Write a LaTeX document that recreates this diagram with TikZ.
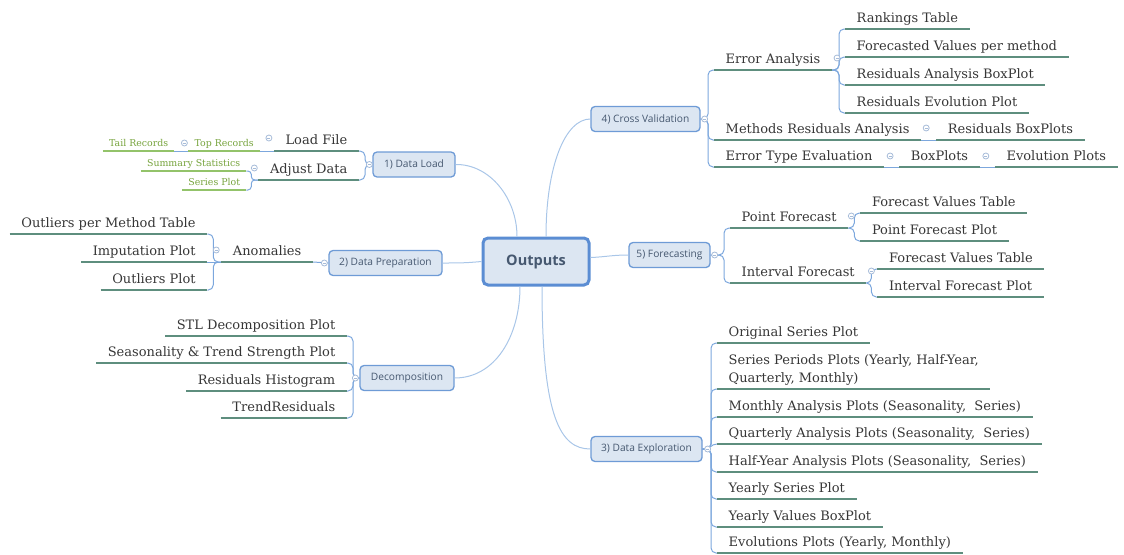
\documentclass[tikz,border=0pt]{standalone}
\usepackage{fontspec}
\setmainfont{DejaVu Serif}
\newfontfamily\boxfont{Open Sans}
\usetikzlibrary{calc}
\definecolor{boxfill}{HTML}{DCE6F2}
\definecolor{boxdraw}{HTML}{6E9BD6}
\definecolor{rootdraw}{HTML}{5B8DD3}
\definecolor{mainline}{HTML}{A9C6E8}
\definecolor{brline}{HTML}{7CA7DD}
\definecolor{ulcol}{HTML}{5E8E7E}
\definecolor{greenul}{HTML}{93C36A}
\definecolor{greentxt}{HTML}{76A33C}
\definecolor{boxtxt}{HTML}{465870}
\definecolor{toptxt}{HTML}{363636}
\definecolor{collcol}{HTML}{A7BCD9}
\begin{document}
\begin{tikzpicture}[x=1pt,y=-1pt,
 box/.style={draw=boxdraw, fill=boxfill, line width=1.3pt, rounded corners=4pt,
   font=\boxfont\fontsize{10.2}{12}\selectfont, text=boxtxt, minimum height=25pt, inner xsep=5pt},
 root/.style={draw=rootdraw, fill=boxfill, line width=3pt, rounded corners=5pt,
   font=\boxfont\bfseries\fontsize{14.5}{16}\selectfont, text=boxtxt, minimum width=106pt, minimum height=47pt},
 topic/.style={font=\fontsize{13}{18}\selectfont, text=toptxt, inner xsep=11.5pt, inner ysep=0pt,
   text height=10pt, text depth=6.5pt},
 rt/.style={topic, anchor=south west},
 lt/.style={topic, anchor=south east},
 sub/.style={font=\fontsize{9.4}{11}\selectfont, text=greentxt, inner xsep=6pt, inner ysep=0pt,
   text height=7pt, text depth=4.5pt, anchor=south east},
 ul/.style={draw=ulcol, line width=2.4pt},
 gul/.style={draw=greenul, line width=1.2pt},
 main/.style={draw=mainline, line width=1pt},
 br/.style={draw=brline, line width=1pt, rounded corners=5pt},
 coll/.style={circle, draw=collcol, fill=white, line width=0.8pt, minimum size=6pt, inner sep=0pt,
   path picture={\draw[collcol, line width=0.6pt] ($(path picture bounding box.center)+(-1.5,0)$) -- ($(path picture bounding box.center)+(1.5,0)$);}}
]
\useasboundingbox (0,0) rectangle (1124,554);

% ---------- boxes ----------
\node[root] (out) at (536,261.5) {Outputs};
\node[box, minimum width=82pt]  (dl)  at (414,164.5) {1) Data Load};
\node[box, minimum width=113pt] (dp)  at (385.5,263) {2) Data Preparation};
\node[box, minimum width=94pt]  (dec) at (407,378) {Decomposition};
\node[box, minimum width=109pt] (cv)  at (645.5,119) {4) Cross Validation};
\node[box, minimum width=81pt]  (fc)  at (669.5,255) {5) Forecasting};
\node[box, minimum width=111pt] (de)  at (646.5,449) {3) Data Exploration};

% ---------- Data Load ----------
\node[lt] (loadfile) at (359,151) {Load File};
\node[lt] (adjust) at (359,180) {Adjust Data};
\node[sub] (toprec) at ([xshift=-14pt]loadfile.south west) {Top Records};
\node[sub] (tailrec) at ([xshift=-14pt]toprec.south west) {Tail Records};
\node[sub] (sumstat) at ([xshift=-12pt,yshift=9pt]adjust.south west) {Summary Statistics};
\node[sub] (sersplot) at ([xshift=-12pt,yshift=-10pt]adjust.south west) {Series Plot};

% ---------- Data Preparation ----------
\node[lt] (anomalies) at (313,262) {Anomalies};
\node[lt] (outpm) at ([xshift=-14pt,yshift=28pt]anomalies.south west) {Outliers per Method Table};
\node[lt] (imput) at ([xshift=-14pt]anomalies.south west) {Imputation Plot};
\node[lt] (outplot) at ([xshift=-14pt,yshift=-28pt]anomalies.south west) {Outliers Plot};

% ---------- Decomposition ----------
\node[lt] (stl) at (347,336) {STL Decomposition Plot};
\node[lt] (seas) at (347,363) {Seasonality \& Trend Strength Plot};
\node[lt] (resh) at (347,391) {Residuals Histogram};
\node[lt] (trendres) at (347,418) {TrendResiduals};

% ---------- Cross Validation ----------
\node[rt] (erran) at (714,70) {Error Analysis};
\node[rt] (rank) at ([xshift=13pt,yshift=41pt]erran.south east) {Rankings Table};
\node[rt] (fvpm) at ([xshift=13pt,yshift=13pt]erran.south east) {Forecasted Values per method};
\node[rt] (rab) at ([xshift=13pt,yshift=-15pt]erran.south east) {Residuals Analysis BoxPlot};
\node[rt] (rep) at ([xshift=13pt,yshift=-43pt]erran.south east) {Residuals Evolution Plot};
\node[rt] (mra) at (714,140) {Methods Residuals Analysis};
\node[rt] (rbp) at ([xshift=15pt]mra.south east) {Residuals BoxPlots};
\node[rt] (ete) at (714,167) {Error Type Evaluation};
\node[rt] (bp) at ([xshift=15pt]ete.south east) {BoxPlots};
\node[rt] (evp) at ([xshift=15pt]bp.south east) {Evolution Plots};

% ---------- Forecasting ----------
\node[rt] (pf) at (730,228) {Point Forecast};
\node[rt] (fvt1) at ([xshift=12pt,yshift=15pt]pf.south east) {Forecast Values Table};
\node[rt] (pfp) at ([xshift=12pt,yshift=-13pt]pf.south east) {Point Forecast Plot};
\node[rt] (ifc) at (730,283) {Interval Forecast};
\node[rt] (fvt2) at ([xshift=11pt,yshift=14pt]ifc.south east) {Forecast Values Table};
\node[rt] (ifp) at ([xshift=11pt,yshift=-14pt]ifc.south east) {Interval Forecast Plot};

% ---------- Data Exploration ----------
\node[rt] (o1) at (717,343) {Original Series Plot};
\node[rt, align=left] (o2) at (717,389) {Series Periods Plots (Yearly, Half-Year,\\Quarterly, Monthly)};
\node[rt] (o3) at (717,417) {Monthly Analysis Plots (Seasonality,\ \ Series)};
\node[rt] (o4) at (717,444) {Quarterly Analysis Plots (Seasonality,\ \ Series)};
\node[rt] (o5) at (717,472) {Half-Year Analysis Plots (Seasonality,\ \ Series)};
\node[rt] (o6) at (717,499) {Yearly Series Plot};
\node[rt] (o7) at (717,527) {Yearly Values BoxPlot};
\node[rt] (o8) at (717,553) {Evolutions Plots (Yearly, Monthly)};

% ---------- main connectors ----------
\draw[main] (dl.east) .. controls (490,164) and ($(out.north)+(-19,-38)$) .. ($(out.north)+(-19,0)$);
\draw[main] ($(out.north)+(10,0)$) .. controls ($(out.north)+(10,-70)$) and (565,119) .. (cv.west);
\draw[main] (out.west) .. controls (465,263) and (460,263) .. (dp.east);
\draw[main] ($(out.east)+(0,-4)$) .. controls (605,257) and (612,255) .. (fc.west);
\draw[main] ($(out.south)+(-16,0)$) .. controls ($(out.south)+(-16,50)$) and (495,378) .. (dec.east);
\draw[main] ($(out.south)+(6,0)$) .. controls ($(out.south)+(6,130)$) and (560,449) .. (de.west);

% ---------- brackets ----------
\foreach \c in {loadfile,adjust}
  \draw[br] (dl.west) -| ([xshift=6pt]\c.south east) -- (\c.south east);
\draw[br, rounded corners=3.5pt] (adjust.south west) -| ([xshift=5pt]sumstat.south east) -- (sumstat.south east);
\draw[br, rounded corners=3.5pt] (adjust.south west) -| ([xshift=5pt]sersplot.south east) -- (sersplot.south east);
\draw[br] (toprec.south east) -- (loadfile.south west);
\draw[br] (tailrec.south east) -- (toprec.south west);

\draw[br] (dp.west) -- (anomalies.south east);
\draw[br] (anomalies.south west) -- (imput.south east);
\foreach \c in {outpm,outplot}
  \draw[br] (anomalies.south west) -| ([xshift=6pt]\c.south east) -- (\c.south east);

\foreach \c in {stl,seas,resh,trendres}
  \draw[br] (dec.west) -| ([xshift=6pt]\c.south east) -- (\c.south east);

\foreach \c in {erran,mra,ete}
  \draw[br] (cv.east) -| ([xshift=-6pt]\c.south west) -- (\c.south west);
\foreach \c in {rank,fvpm,rab,rep}
  \draw[br] (erran.south east) -| ([xshift=-6pt]\c.south west) -- (\c.south west);
\draw[br] (mra.south east) -- (rbp.south west);
\draw[br] (ete.south east) -- (bp.south west);
\draw[br] (bp.south east) -- (evp.south west);

\foreach \c in {pf,ifc}
  \draw[br] (fc.east) -| ([xshift=-6pt]\c.south west) -- (\c.south west);
\foreach \c in {fvt1,pfp}
  \draw[br] (pf.south east) -| ([xshift=-6pt]\c.south west) -- (\c.south west);
\foreach \c in {fvt2,ifp}
  \draw[br] (ifc.south east) -| ([xshift=-6pt]\c.south west) -- (\c.south west);

\foreach \c in {o1,o2,o3,o5,o6,o7,o8}
  \draw[br] (de.east) -| ([xshift=-6pt]\c.south west) -- (\c.south west);
\draw[br] (de.east) .. controls (711,449) and (711,444) .. (o4.south west);

% ---------- underlines ----------
\foreach \n in {loadfile,adjust,anomalies,outpm,imput,outplot,stl,seas,resh,trendres,
  erran,rank,fvpm,rab,rep,mra,rbp,ete,bp,evp,pf,fvt1,pfp,ifc,fvt2,ifp,o1,o2,o3,o4,o5,o6,o7,o8}
  \draw[ul] (\n.south west) -- (\n.south east);
\foreach \n in {tailrec,toprec,sumstat,sersplot}
  \draw[gul] (\n.south west) -- (\n.south east);

% ---------- collapse markers ----------
\node[coll] (c1) at ([xshift=-3pt]dl.west) {};
\node[coll] (c2) at ([xshift=-5pt,yshift=13pt]loadfile.south west) {};
\node[coll] (c3) at ([xshift=-4pt,yshift=8pt]toprec.south west) {};
\node[coll] (c4) at ([xshift=-4pt,yshift=12pt]adjust.south west) {};
\node[coll] (c5) at ([xshift=-4pt]dp.west) {};
\node[coll] (c6) at ([xshift=-5pt,yshift=12pt]anomalies.south west) {};
\node[coll] (c7) at ([xshift=-4pt]dec.west) {};
\node[coll] (c8) at ([xshift=4pt]cv.east) {};
\node[coll] (c9) at ([xshift=5pt,yshift=12pt]erran.south east) {};
\node[coll] (c10) at ([xshift=5pt,yshift=12pt]mra.south east) {};
\node[coll] (c11) at ([xshift=6pt,yshift=11pt]ete.south east) {};
\node[coll] (c12) at ([xshift=6pt,yshift=11pt]bp.south east) {};
\node[coll] (c13) at ([xshift=4pt]fc.east) {};
\node[coll] (c14) at ([xshift=3pt,yshift=12pt]pf.south east) {};
\node[coll] (c15) at ([xshift=5pt,yshift=12pt]ifc.south east) {};
\node[coll] (c16) at ([xshift=5pt]de.east) {};
\end{tikzpicture}
\end{document}
